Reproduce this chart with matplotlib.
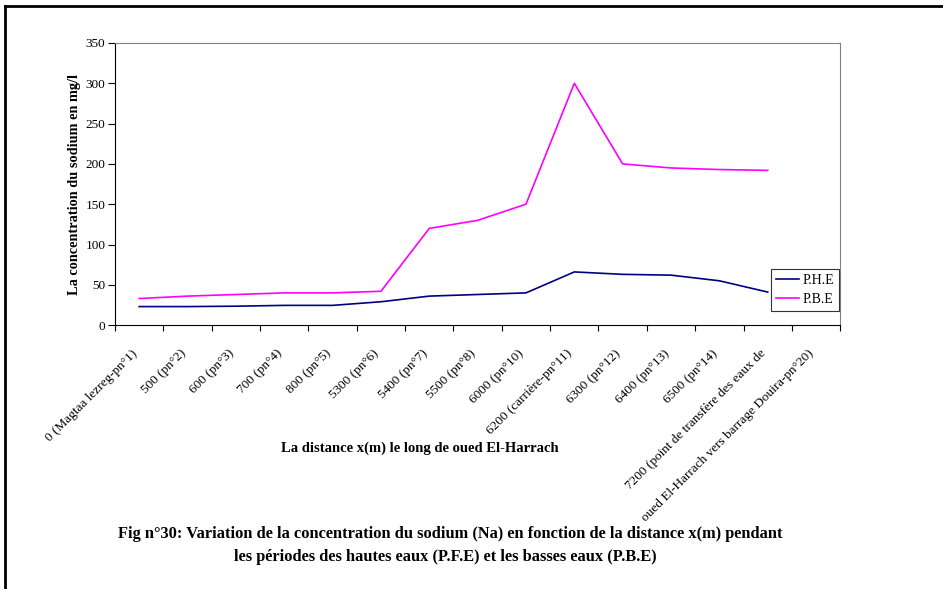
import matplotlib.pyplot as plt
import numpy as np
from matplotlib.lines import Line2D
from matplotlib.transforms import ScaledTranslation

plt.rcParams['font.family'] = ['Liberation Serif', 'DejaVu Serif']

# points de prélèvement le long de l'oued
categories = [
    "0 (Magtaa lezreg-pn°1)",
    "500 (pn°2)",
    "600 (pn°3)",
    "700 (pn°4)",
    "800 (pn°5)",
    "5300 (pn°6)",
    "5400 (pn°7)",
    "5500 (pn°8)",
    "6000 (pn°10)",
    "6200 (carrière-pn°11)",
    "6300 (pn°12)",
    "6400 (pn°13)",
    "6500 (pn°14)",
    "7200 (point de transfère des eaux de",
    "oued El-Harrach vers barrage Douira-pn°20)",
]

# sodium (mg/l) : hautes eaux et basses eaux
phe = [23, 23, 23.5, 24.5, 24.5, 29, 36, 38, 40, 66, 63, 62, 55, 41]
pbe = [33, 36, 38, 40, 40, 42, 120, 130, 150, 300, 200, 195, 193, 192]

fig = plt.figure(figsize=(9.43, 5.89), dpi=100)
ax = fig.add_axes([0.122, 0.448, 0.769, 0.479])

x = np.arange(len(phe))
ax.plot(x, phe, color='#000080', lw=1.2, label='P.H.E')
ax.plot(x, pbe, color='#FF00FF', lw=1.2, label='P.B.E')

ax.set_xlim(-0.5, len(categories) - 0.5)
ax.set_ylim(0, 350)
ax.set_yticks(np.arange(0, 351, 50))

# étiquettes au centre des catégories, graduations entre elles
ax.set_xticks(np.arange(len(categories)))
ax.set_xticklabels(categories, rotation=45, ha='right', rotation_mode='anchor')
ax.set_xticks(np.arange(len(categories) + 1) - 0.5, minor=True)
ax.tick_params(axis='x', which='major', length=0, pad=8, labelsize=9.5)
ax.tick_params(axis='x', which='minor', length=4, direction='out', width=0.8)
ax.tick_params(axis='y', length=5, direction='out', width=0.8, labelsize=9.5, pad=2)

# léger décalage des étiquettes inclinées
shift = ScaledTranslation(-0.08, -0.11, fig.dpi_scale_trans)
for lab in ax.get_xticklabels():
    lab.set_transform(lab.get_transform() + shift)

for s in ['top', 'right']:
    ax.spines[s].set_color('#808080')
for s in ['left', 'bottom']:
    ax.spines[s].set_color('black')

ax.set_ylabel('La concentration du sodium en mg/l', fontsize=10.3, fontweight='bold', labelpad=3)

leg = ax.legend(loc='lower right', bbox_to_anchor=(0.998, 0.05), fontsize=10,
                frameon=True, fancybox=False, edgecolor='black',
                handlelength=1.7, handletextpad=0.2, borderpad=0.35, labelspacing=0.45,
                borderaxespad=0)
leg.get_frame().set_linewidth(0.8)

fig.text(0.445, 0.239, 'La distance x(m) le long de oued El-Harrach',
         ha='center', va='center', fontsize=10.5, fontweight='bold')

fig.text(0.125, 0.093, 'Fig n°30: Variation de la concentration du sodium (Na) en fonction de la distance x(m) pendant',
         ha='left', va='center', fontsize=11.8, fontweight='bold')
fig.text(0.472, 0.055, 'les périodes des hautes eaux (P.F.E) et les basses eaux (P.B.E)',
         ha='center', va='center', fontsize=11.8, fontweight='bold')

# cadre de la figure
fig.add_artist(Line2D([0.0055, 1.0], [0.99, 0.99], color='black', lw=2, transform=fig.transFigure))
fig.add_artist(Line2D([0.0055, 0.0055], [0.0, 0.99], color='black', lw=2, transform=fig.transFigure))

fig.savefig('out.png', dpi=100)
